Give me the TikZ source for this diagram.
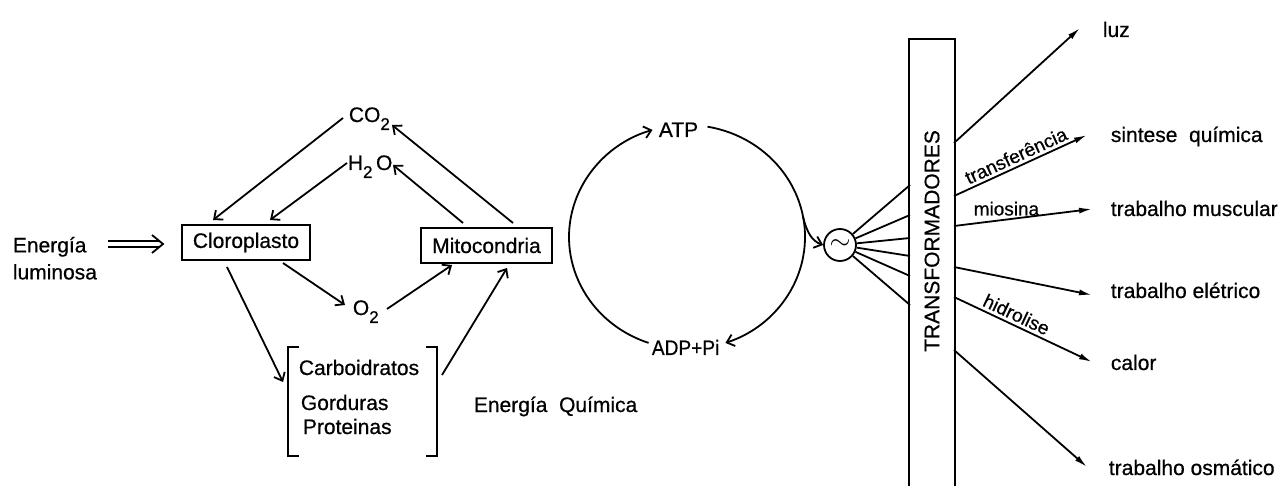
\documentclass[tikz,border=0pt]{standalone}
\usepackage{fontspec}
\setmainfont{Liberation Sans}[FakeBold=0.6]
\usetikzlibrary{arrows.meta,calc}
\newcommand\chemsub[1]{\raisebox{-8pt}{\fontsize{17}{17}\selectfont #1}}
\begin{document}
\begin{tikzpicture}[x=1pt,y=-1pt,
  line width=1.8pt,
  lbl/.style={font=\fontsize{21}{27}\selectfont, inner sep=0pt},
  small/.style={font=\fontsize{19}{21}\selectfont, inner sep=3pt},
  box/.style={draw, lbl, minimum height=35pt},
  arr/.style={-{Straight Barb[length=7pt,width=12pt]}},
  farr/.style={-{Latex[length=13pt,width=6pt]}},
]
\useasboundingbox (0,0) rectangle (1288,486);

% left part
\node[lbl, anchor=north west, align=left] (en) at (12,236) {Energía\\luminosa};
\node[box, minimum width=128pt] (clo) at (246,242.5) {Cloroplasto};
\node[box, minimum width=131pt] (mit) at (486.5,245.5) {Mitocondria};
\node[lbl, anchor=base west] (co2) at (348,122) {CO\chemsub{2}};
\node[lbl, anchor=base west] (h2o) at (347,170) {H\chemsub{2}\,O};
\node[lbl, anchor=base west] (o2) at (352,315) {O\chemsub{2}};
\node[minimum width=147pt, minimum height=107pt, inner sep=0pt] (bk) at (362.5,401.5) {};
\node[lbl, anchor=base west] (carb) at (298,375) {Carboidratos};
\node[lbl, anchor=base west] (gord) at (300,410) {Gorduras};
\node[lbl, anchor=base west] (prot) at (302,434) {Proteinas};
\node[lbl, anchor=base west] (eq) at (473,412) {Energía\ \ Química};

% double arrow
\coordinate (d1) at (108,244);
\coordinate (d2) at (163,244);
\draw[double, double distance=4.5pt, line width=1.3pt] (d1) -- ($(d2)+(-4,0)$);
\draw ($(d2)+(-11,-9)$) -- (d2) -- ($(d2)+(-11,9)$);

% bracket
\draw ($(bk.north west)+(11,0)$) -- (bk.north west) -- (bk.south west) -- ($(bk.south west)+(11,0)$);
\draw ($(bk.north east)+(-11,0)$) -- (bk.north east) -- (bk.south east) -- ($(bk.south east)+(-11,0)$);

% arrows left
\coordinate (c1) at (213,220);
\coordinate (c2) at (270,220);
\coordinate (c3) at (513,223);
\coordinate (c4) at (463,223);
\coordinate (c5) at (283,263);
\coordinate (c6) at (452,265);
\coordinate (c7) at (227,267);
\coordinate (c8) at (283,382);
\coordinate (c9) at (442,375);
\coordinate (c10) at (507,268);
\coordinate (c11) at (392,125);
\coordinate (c12) at (393,165);
\coordinate (c13) at (345,305);
\coordinate (c14) at (387,309);
\coordinate (c15) at (343,118);
\coordinate (c16) at (347,163);
\draw[arr] (c15) -- (c1);
\draw[arr] (c16) -- (c2);
\draw[arr] (c3) -- (c11);
\draw[arr] (c4) -- (c12);
\draw[arr] (c5) -- (c13);
\draw[arr] (c14) -- (c6);
\draw[arr] (c7) -- (c8);
\draw[arr] (c9) -- (c10);

% ATP cycle
\node[lbl, anchor=base west] (atp) at (658,137) {ATP};
\node[lbl, anchor=base west] (adp) at (651,355) {\scalebox{0.91}[1]{ADP+Pi}};
\coordinate (cs) at (648.6,342.9);
\coordinate (ce) at (707.5,126.7);
\draw[arr] (cs) arc[start angle=109, end angle=253, x radius=118, y radius=112];
\draw[arr] (ce) arc[start angle=-80, end angle=71, x radius=118, y radius=112];
\node[lbl, circle, draw, minimum size=32pt] (sig) at (840,245) {\scalebox{1.3}{$\sim$}};
\coordinate (br) at (802.9,216.2);
\draw[arr] (br) .. controls (807,233) and (812,241) .. (sig.west);

% transformadores
\node[lbl, minimum width=44pt, minimum height=402pt] (tr) at (932,241) {\rotatebox{90}{TRANSFORMADORES}};
\draw ($(tr.north west)+(0,60)$) -- (tr.north west) -- (tr.north east) -- ($(tr.south east)+(0,60)$);
\draw (tr.north west) -- ($(tr.south west)+(0,60)$);

\foreach \i/\y in {1/185,2/215,3/238,4/256,5/276,6/305} {
  \coordinate (t\i) at (910,\y);
  \draw (sig) -- (t\i);
}

% outputs
\node[lbl, anchor=base west] (luz) at (1102,37) {luz};
\node[lbl, anchor=base west] (sq) at (1110,142) {sintese\ \ química};
\node[lbl, anchor=base west] (tm) at (1110,216) {trabalho muscular};
\node[lbl, anchor=base west] (te) at (1110,298) {trabalho elétrico};
\node[lbl, anchor=base west] (cal) at (1110,370) {calor};
\node[lbl, anchor=base west] (to) at (1108,475) {trabalho osmático};

\coordinate (s1) at (954,143); \coordinate (a1) at (1080,28);
\coordinate (s2) at (954,196); \coordinate (a2) at (1087,135);
\coordinate (s3) at (954,226); \coordinate (a3) at (1092,209);
\coordinate (s4) at (954,267); \coordinate (a4) at (1092,295);
\coordinate (s5) at (954,297); \coordinate (a5) at (1092,362);
\coordinate (s6) at (954,350); \coordinate (a6) at (1087,467);
\draw[farr] (s1) -- (a1);
\draw[farr] (s2) -- node[small, sloped, above, pos=0.5] (tf) {transferência} (a2);
\draw[farr] (s3) -- node[small, above, pos=0.38] (mio) {miosina} (a3);
\draw[farr] (s4) -- (a4);
\draw[farr] (s5) -- node[small, sloped, above, pos=0.42] (hid) {hidrolise} (a5);
\draw[farr] (s6) -- (a6);
\end{tikzpicture}
\end{document}
